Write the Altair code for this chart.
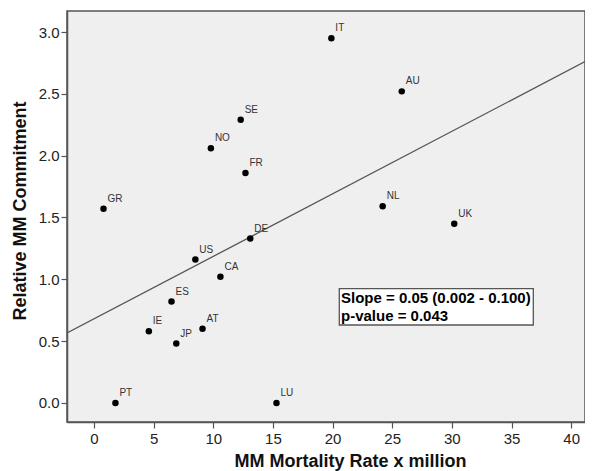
import altair as alt
import pandas as pd

countries = ["GR", "NO", "SE", "FR", "DE", "IT", "AU", "NL", "UK",
             "US", "CA", "ES", "IE", "AT", "JP", "PT", "LU"]
mortality = [0.8, 9.8, 12.3, 12.7, 13.1, 19.9, 25.8, 24.2, 30.2,
             8.5, 10.6, 6.5, 4.6, 9.1, 6.9, 1.8, 15.3]
commitment = [1.57, 2.06, 2.29, 1.86, 1.33, 2.95, 2.52, 1.59, 1.45,
              1.16, 1.02, 0.82, 0.58, 0.60, 0.48, 0.0, 0.0]
x_ticks = [0, 5, 10, 15, 20, 25, 30, 35, 40]
y_ticks = [0.0, 0.5, 1.0, 1.5, 2.0, 2.5, 3.0]
stat_lines = ["Slope = 0.05 (0.002 - 0.100)", "p-value = 0.043"]

df = pd.DataFrame({"country": countries, "mortality": mortality, "commitment": commitment})
one = pd.DataFrame({"k": [0]})

FONT = "Liberation Sans"
XDOM = [-2.26, 41.16]
YDOM = [-0.154, 3.17]

xs = alt.Scale(domain=XDOM, nice=False, zero=False)
ys = alt.Scale(domain=YDOM, nice=False, zero=False)

xax = alt.Axis(values=x_ticks, title="MM Mortality Rate x million", grid=False,
               titleX=283, titleY=44, titleBaseline="alphabetic", titleAlign="center",
               labelPadding=3)
yax = alt.Axis(values=y_ticks, format=".1f", title="Relative MM Commitment", grid=False,
               titleX=-42, titleY=199.5, titleBaseline="alphabetic", titleAlign="center",
               titleAngle=270, labelPadding=2)

base = alt.Chart(df)

line = base.transform_regression("mortality", "commitment", extent=XDOM).mark_line(
    color="#555555", strokeWidth=1.3, clip=True
).encode(
    x=alt.X("mortality:Q", scale=xs, axis=xax),
    y=alt.Y("commitment:Q", scale=ys, axis=yax),
)

pts = base.mark_circle(size=42, color="black", opacity=1).encode(
    x=alt.X("mortality:Q", scale=xs),
    y=alt.Y("commitment:Q", scale=ys),
)

lbl = base.mark_text(align="left", baseline="alphabetic", dx=4, dy=-7,
                     font=FONT, fontSize=10, color="#333333").encode(
    x=alt.X("mortality:Q", scale=xs),
    y=alt.Y("commitment:Q", scale=ys),
    text="country:N",
)

box = alt.Chart(one).mark_rect(fill="white", stroke="#555555", strokeWidth=1.3).encode(
    x=alt.value(272.3), x2=alt.value(466.3), y=alt.value(277.7), y2=alt.value(314)
)

t1 = alt.Chart(one).mark_text(align="left", baseline="alphabetic", font=FONT,
                              fontSize=15, fontWeight="bold", color="black").encode(
    x=alt.value(274), y=alt.value(291.7), text=alt.value(stat_lines[0])
)
t2 = alt.Chart(one).mark_text(align="left", baseline="alphabetic", font=FONT,
                              fontSize=15, fontWeight="bold", color="black").encode(
    x=alt.value(274), y=alt.value(309.7), text=alt.value(stat_lines[1])
)

chart = alt.layer(line, pts, lbl, box, t1, t2).properties(
    width=518, height=411,
    autosize=alt.AutoSizeParams(type="none"),
    padding={"left": 59, "top": 3, "right": 0, "bottom": 50},
    background="white",
).configure_view(
    fill="#efefef", stroke="#555555", strokeWidth=1.5
).configure_axis(
    domainColor="#555555", domainWidth=1.5,
    tickColor="#555555", tickWidth=1.2, tickSize=6,
    labelFont=FONT, labelFontSize=15, labelColor="#222222",
    titleFont=FONT, titleFontSize=18, titleFontWeight="bold", titleColor="#111111",
)

chart.save("out.html", embed_options={"renderer": "svg", "actions": False})
